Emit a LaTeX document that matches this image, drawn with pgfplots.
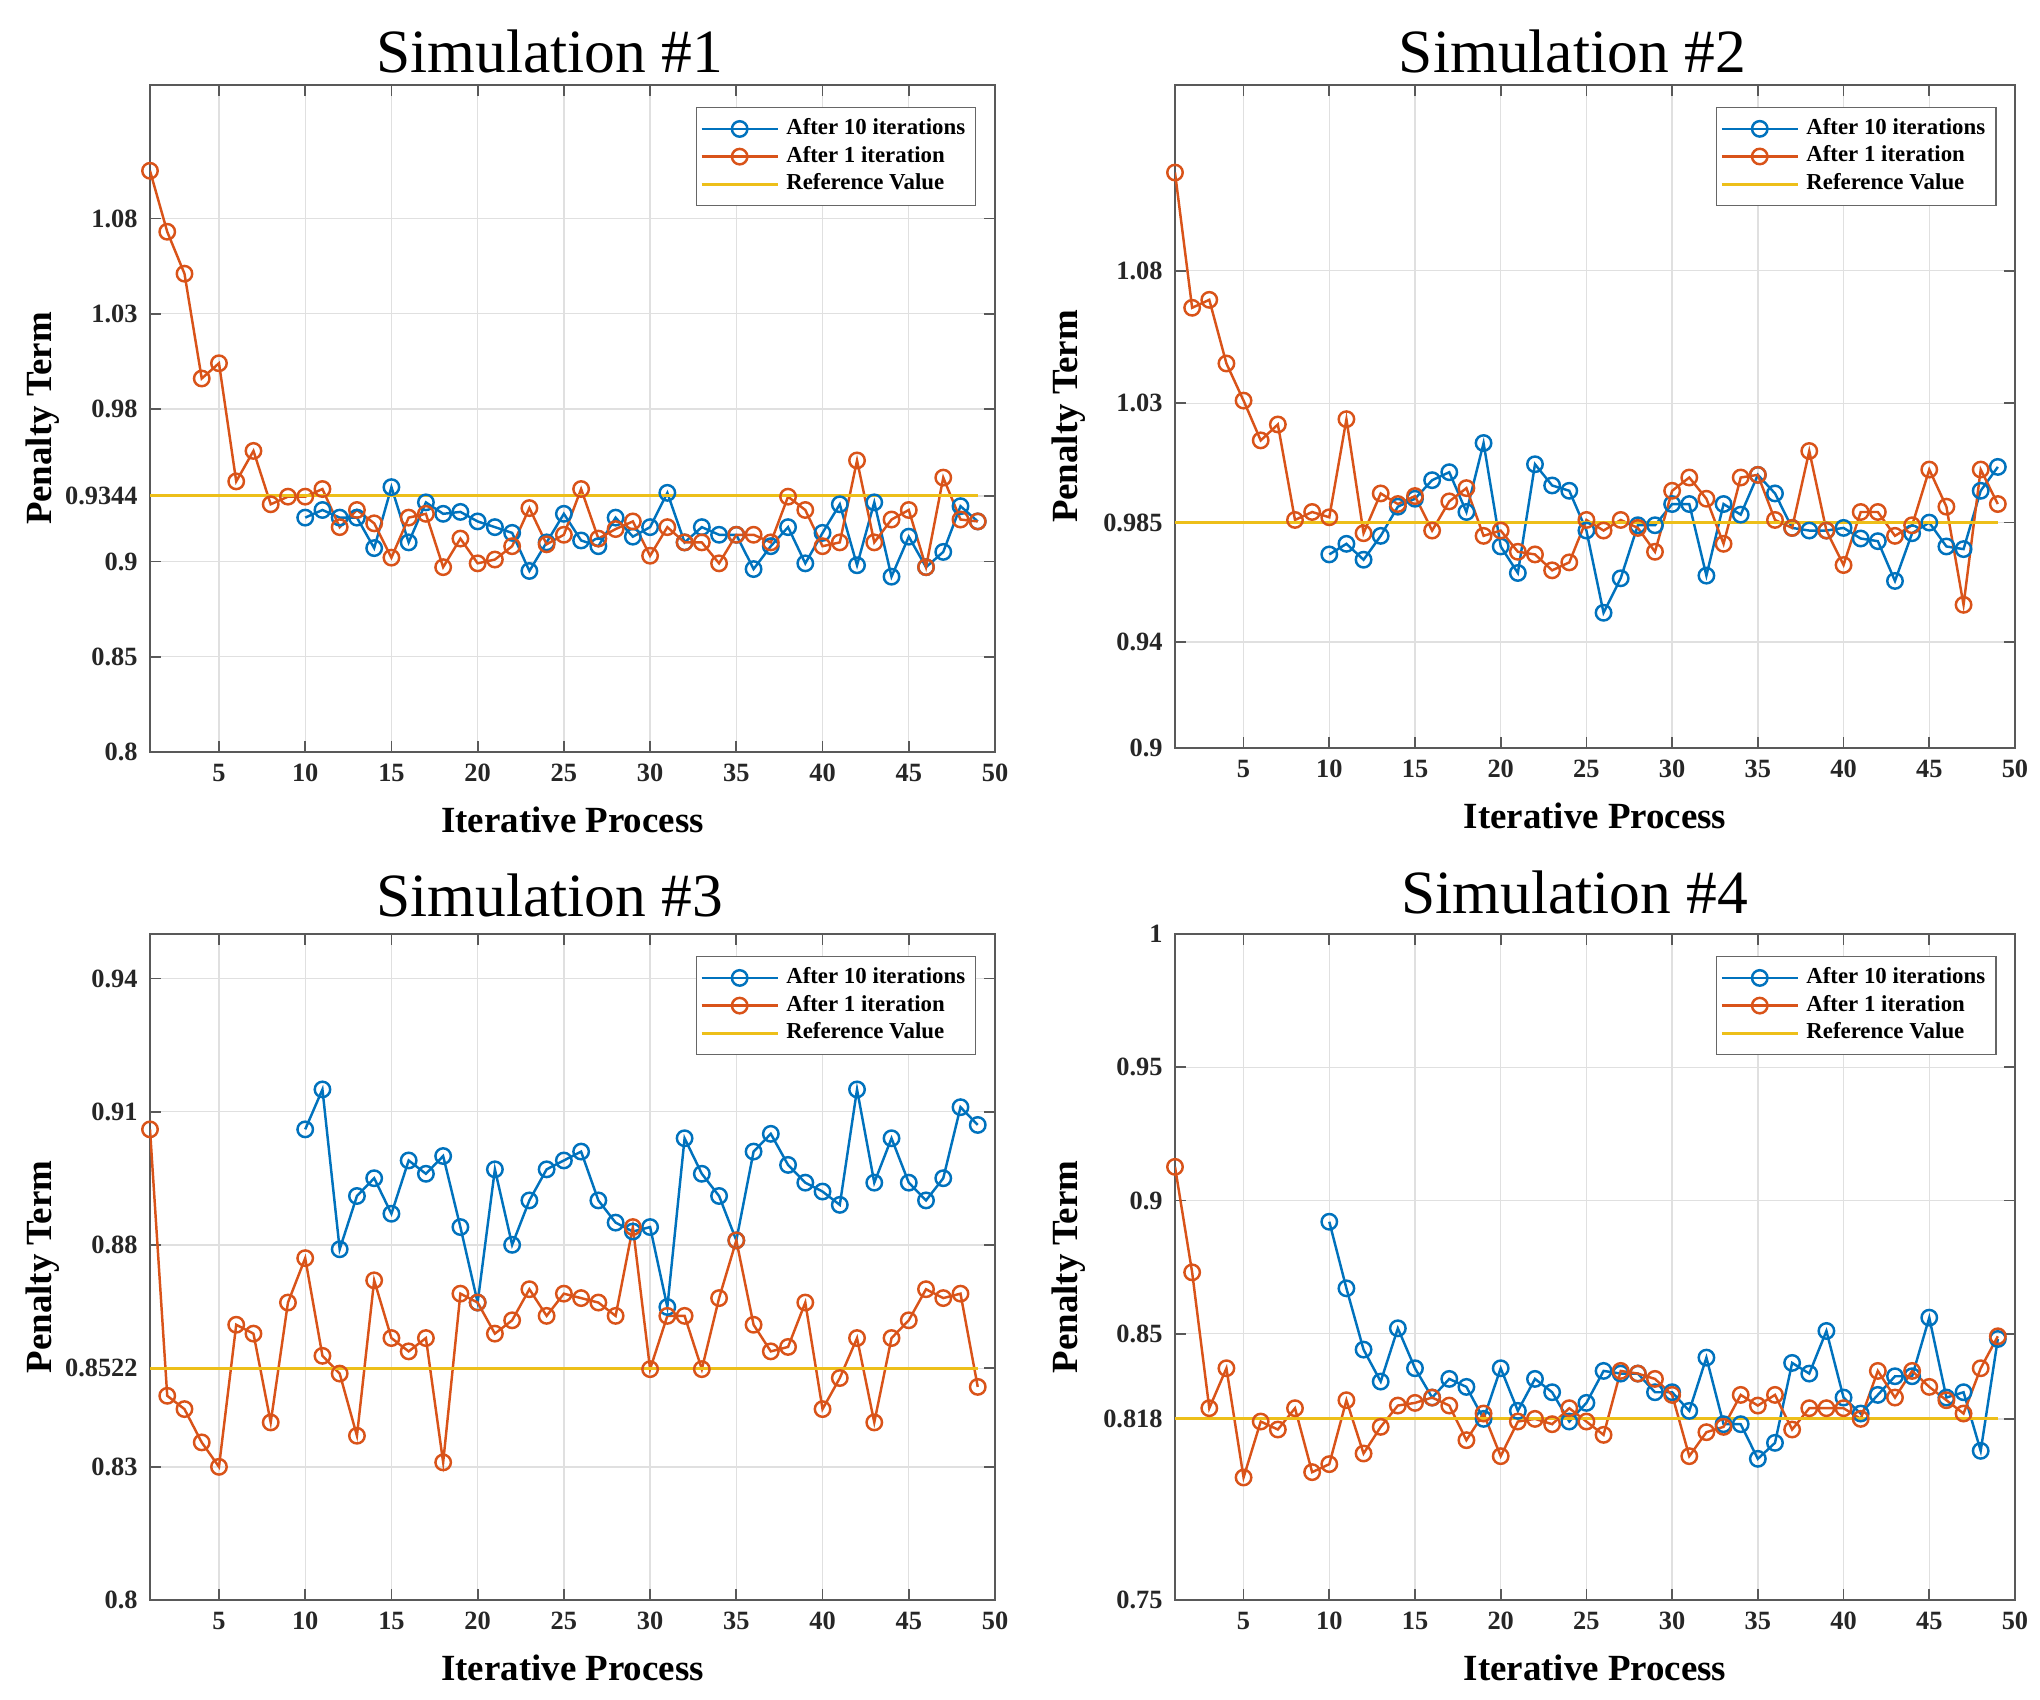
\documentclass[border=0pt]{standalone}
\usepackage{pgfplots}
\pgfplotsset{compat=1.18}
\usepackage{fontspec}
\setmainfont{Liberation Serif}
\newfontfamily\titlefont{Liberation Serif}
\definecolor{mblue}{rgb}{0,0.447,0.741}
\definecolor{morange}{rgb}{0.85,0.325,0.098}
\definecolor{myellow}{rgb}{0.93,0.75,0.10}
\pgfplotsset{
  sim/.style={
    scale only axis, width=8.45cm, height=6.67cm,
    xmin=1, xmax=50, xtick={5,10,...,50},
    xticklabels={5,10,15,20,25,30,35,40,45,50},
    grid=major, major grid style={draw=black!12, line width=0.4pt},
    axis line style={draw=black!65, line width=0.7pt},
    tick style={draw=black!65, line width=0.5pt}, tick align=inside, major tick length=3pt,
    ticklabel style={font=\bfseries\fontsize{7.5}{9}\selectfont, text=black!85},
    xlabel={Iterative Process}, ylabel={Penalty Term},
    label style={font=\bfseries\fontsize{10.5}{12}\selectfont},
    xlabel style={at={(axis description cs:0.5,-0.102)}, anchor=center},
    ylabel style={at={(axis description cs:-0.127,0.5)}, anchor=center},
    title style={font=\titlefont\fontsize{17.5}{20}\selectfont, at={(axis description cs:0.473,1.05)}, anchor=center, yshift=-6pt},
    legend cell align=left,
    legend style={at={(0.978,0.967)}, anchor=north east, draw=black!60, fill=white,
      font=\bfseries\fontsize{6.5}{7.5}\selectfont, inner sep=1pt, row sep=-2.2pt},
    legend image code/.code={\draw[mark repeat=2,mark phase=2] plot coordinates {(0cm,0cm) (0.38cm,0cm) (0.76cm,0cm)};},
  },
  ser/.style={line width=0.7pt, mark=o, mark size=2.2pt, mark options={line width=0.7pt}},
}
\begin{document}
\begin{tikzpicture}
\useasboundingbox (0,0) rectangle (20.40,-16.99);
% ---------- Simulation 1
\begin{axis}[sim, at={(1.50cm,-7.52cm)}, anchor=south west,
  title={Simulation \#1}, ymin=0.8, ymax=1.15,
  ytick={0.8,0.85,0.9,0.9344,0.98,1.03,1.08},
  yticklabels={0.8,0.85,0.9,0.9344,0.98,1.03,1.08}]
\addplot[ser, color=mblue] coordinates {
(10,0.923)(11,0.927)(12,0.923)(13,0.923)(14,0.907)(15,0.939)(16,0.910)(17,0.931)(18,0.925)(19,0.926)
(20,0.921)(21,0.918)(22,0.915)(23,0.895)(24,0.910)(25,0.925)(26,0.911)(27,0.908)(28,0.923)(29,0.913)
(30,0.918)(31,0.936)(32,0.910)(33,0.918)(34,0.914)(35,0.914)(36,0.896)(37,0.908)(38,0.918)(39,0.899)
(40,0.915)(41,0.930)(42,0.898)(43,0.931)(44,0.892)(45,0.913)(46,0.897)(47,0.905)(48,0.929)(49,0.921)};
\addlegendentry{After 10 iterations}
\addplot[ser, color=morange] coordinates {
(1,1.105)(2,1.073)(3,1.051)(4,0.996)(5,1.004)(6,0.942)(7,0.958)(8,0.930)(9,0.934)
(10,0.934)(11,0.938)(12,0.918)(13,0.927)(14,0.920)(15,0.902)(16,0.923)(17,0.925)(18,0.897)(19,0.912)
(20,0.899)(21,0.901)(22,0.908)(23,0.928)(24,0.909)(25,0.914)(26,0.938)(27,0.912)(28,0.917)(29,0.921)
(30,0.903)(31,0.918)(32,0.910)(33,0.910)(34,0.899)(35,0.914)(36,0.914)(37,0.910)(38,0.934)(39,0.927)
(40,0.908)(41,0.910)(42,0.953)(43,0.910)(44,0.922)(45,0.927)(46,0.897)(47,0.944)(48,0.922)(49,0.921)};
\addlegendentry{After 1 iteration}
\addplot[color=myellow, line width=0.9pt] coordinates {(1,0.9344)(49,0.9344)};
\addlegendentry{Reference Value}
\end{axis}
% ---------- Simulation 2
\begin{axis}[sim, at={(11.75cm,-7.48cm)}, anchor=south west, width=8.40cm, height=6.63cm,
  title={Simulation \#2}, ymin=0.9, ymax=1.15,
  ytick={0.9,0.94,0.985,1.03,1.08},
  yticklabels={0.9,0.94,0.985,1.03,1.08}]
\addplot[ser, color=mblue] coordinates {
(10,0.973)(11,0.977)(12,0.971)(13,0.980)(14,0.991)(15,0.994)(16,1.001)(17,1.004)(18,0.989)(19,1.015)
(20,0.976)(21,0.966)(22,1.007)(23,0.999)(24,0.997)(25,0.982)(26,0.951)(27,0.964)(28,0.984)(29,0.984)
(30,0.992)(31,0.992)(32,0.965)(33,0.992)(34,0.988)(35,1.003)(36,0.996)(37,0.983)(38,0.982)(39,0.982)
(40,0.983)(41,0.979)(42,0.978)(43,0.963)(44,0.981)(45,0.985)(46,0.976)(47,0.975)(48,0.997)(49,1.006)};
\addlegendentry{After 10 iterations}
\addplot[ser, color=morange] coordinates {
(1,1.117)(2,1.066)(3,1.069)(4,1.045)(5,1.031)(6,1.016)(7,1.022)(8,0.986)(9,0.989)
(10,0.987)(11,1.024)(12,0.981)(13,0.996)(14,0.992)(15,0.995)(16,0.982)(17,0.993)(18,0.998)(19,0.980)
(20,0.982)(21,0.974)(22,0.973)(23,0.967)(24,0.970)(25,0.986)(26,0.982)(27,0.986)(28,0.983)(29,0.974)
(30,0.997)(31,1.002)(32,0.994)(33,0.977)(34,1.002)(35,1.003)(36,0.986)(37,0.983)(38,1.012)(39,0.982)
(40,0.969)(41,0.989)(42,0.989)(43,0.980)(44,0.984)(45,1.005)(46,0.991)(47,0.954)(48,1.005)(49,0.992)};
\addlegendentry{After 1 iteration}
\addplot[color=myellow, line width=0.9pt] coordinates {(1,0.985)(49,0.985)};
\addlegendentry{Reference Value}
\end{axis}
% ---------- Simulation 3
\begin{axis}[sim, at={(1.50cm,-16.00cm)}, anchor=south west, height=6.66cm,
  title={Simulation \#3}, ymin=0.8, ymax=0.95,
  title style={at={(axis description cs:0.473,1.058)}},
  ytick={0.8,0.83,0.8522,0.88,0.91,0.94},
  yticklabels={0.8,0.83,0.8522,0.88,0.91,0.94}]
\addplot[ser, color=mblue] coordinates {
(10,0.906)(11,0.915)(12,0.879)(13,0.891)(14,0.895)(15,0.887)(16,0.899)(17,0.896)(18,0.900)(19,0.884)
(20,0.867)(21,0.897)(22,0.880)(23,0.890)(24,0.897)(25,0.899)(26,0.901)(27,0.890)(28,0.885)(29,0.883)
(30,0.884)(31,0.866)(32,0.904)(33,0.896)(34,0.891)(35,0.881)(36,0.901)(37,0.905)(38,0.898)(39,0.894)
(40,0.892)(41,0.889)(42,0.915)(43,0.894)(44,0.904)(45,0.894)(46,0.890)(47,0.895)(48,0.911)(49,0.907)};
\addlegendentry{After 10 iterations}
\addplot[ser, color=morange] coordinates {
(1,0.906)(2,0.846)(3,0.843)(4,0.8355)(5,0.830)(6,0.862)(7,0.860)(8,0.840)(9,0.867)
(10,0.877)(11,0.855)(12,0.851)(13,0.837)(14,0.872)(15,0.859)(16,0.856)(17,0.859)(18,0.831)(19,0.869)
(20,0.867)(21,0.860)(22,0.863)(23,0.870)(24,0.864)(25,0.869)(26,0.868)(27,0.867)(28,0.864)(29,0.884)
(30,0.852)(31,0.864)(32,0.864)(33,0.852)(34,0.868)(35,0.881)(36,0.862)(37,0.856)(38,0.857)(39,0.867)
(40,0.843)(41,0.850)(42,0.859)(43,0.840)(44,0.859)(45,0.863)(46,0.870)(47,0.868)(48,0.869)(49,0.848)};
\addlegendentry{After 1 iteration}
\addplot[color=myellow, line width=0.9pt] coordinates {(1,0.8522)(49,0.8522)};
\addlegendentry{Reference Value}
\end{axis}
% ---------- Simulation 4
\begin{axis}[sim, at={(11.75cm,-16.00cm)}, anchor=south west, width=8.40cm, height=6.66cm,
  title={Simulation \#4}, ymin=0.75, ymax=1.0,
  title style={at={(axis description cs:0.476,1.062)}},
  ytick={0.75,0.818,0.85,0.9,0.95,1},
  yticklabels={0.75,0.818,0.85,0.9,0.95,1}]
\addplot[ser, color=mblue] coordinates {
(10,0.892)(11,0.867)(12,0.844)(13,0.832)(14,0.852)(15,0.837)(16,0.826)(17,0.833)(18,0.830)(19,0.818)
(20,0.837)(21,0.821)(22,0.833)(23,0.828)(24,0.817)(25,0.824)(26,0.836)(27,0.835)(28,0.835)(29,0.828)
(30,0.828)(31,0.821)(32,0.841)(33,0.816)(34,0.816)(35,0.803)(36,0.809)(37,0.839)(38,0.835)(39,0.851)
(40,0.826)(41,0.820)(42,0.827)(43,0.834)(44,0.834)(45,0.856)(46,0.826)(47,0.828)(48,0.806)(49,0.848)};
\addlegendentry{After 10 iterations}
\addplot[ser, color=morange] coordinates {
(1,0.9126)(2,0.873)(3,0.822)(4,0.837)(5,0.796)(6,0.817)(7,0.814)(8,0.822)(9,0.798)
(10,0.801)(11,0.825)(12,0.805)(13,0.815)(14,0.823)(15,0.824)(16,0.826)(17,0.823)(18,0.810)(19,0.820)
(20,0.804)(21,0.817)(22,0.818)(23,0.816)(24,0.822)(25,0.817)(26,0.812)(27,0.836)(28,0.835)(29,0.833)
(30,0.827)(31,0.804)(32,0.813)(33,0.815)(34,0.827)(35,0.823)(36,0.827)(37,0.814)(38,0.822)(39,0.822)
(40,0.822)(41,0.818)(42,0.836)(43,0.826)(44,0.836)(45,0.830)(46,0.825)(47,0.820)(48,0.837)(49,0.849)};
\addlegendentry{After 1 iteration}
\addplot[color=myellow, line width=0.9pt] coordinates {(1,0.818)(49,0.818)};
\addlegendentry{Reference Value}
\end{axis}
\end{tikzpicture}
\end{document}
